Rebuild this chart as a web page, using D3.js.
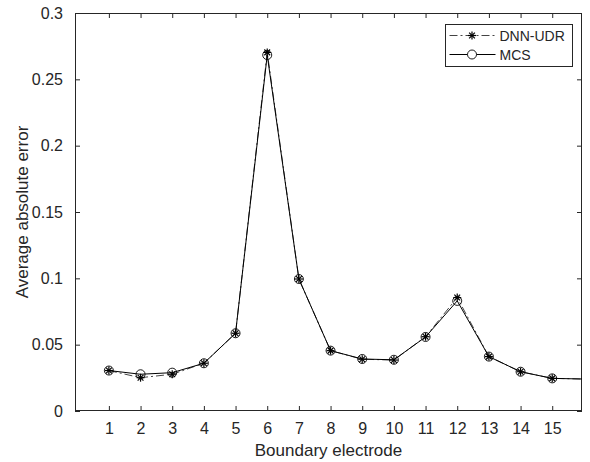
<!DOCTYPE html>
<html>
<head>
<meta charset="utf-8">
<script src="https://cdn.jsdelivr.net/npm/d3@7"></script>
<style>
  html, body { margin: 0; padding: 0; background: #fff; }
  svg text { font-family: "Liberation Sans", Arial, Helvetica, sans-serif; fill: #262626; }
</style>
</head>
<body>
<div id="chart"></div>
<script>
// data
var electrodes = [1, 2, 3, 4, 5, 6, 7, 8, 9, 10, 11, 12, 13, 14, 15, 16];
var dnnUdr = [0.0305, 0.0251, 0.0277, 0.0360, 0.0586, 0.2703, 0.0995, 0.0455, 0.0390, 0.0384, 0.0560, 0.0855, 0.0410, 0.0296, 0.0246, 0.0241];
var mcs    = [0.0305, 0.0277, 0.0289, 0.0360, 0.0586, 0.2683, 0.0995, 0.0455, 0.0392, 0.0386, 0.0558, 0.0830, 0.0410, 0.0296, 0.0246, 0.0241];
var xTicks = [1, 2, 3, 4, 5, 6, 7, 8, 9, 10, 11, 12, 13, 14, 15];
var yTicks = [0, 0.05, 0.1, 0.15, 0.2, 0.25, 0.3];
var seriesNames = ["DNN-UDR", "MCS"];

var svgWidth = 590, svgHeight = 462;
var margin = {top: 13, right: 8, bottom: 51, left: 75};
var width = svgWidth - margin.left - margin.right,
    height = svgHeight - margin.top - margin.bottom;

var svg = d3.select("#chart").append("svg")
    .attr("width", svgWidth)
    .attr("height", svgHeight);

var g = svg.append("g")
    .attr("transform", "translate(" + margin.left + "," + margin.top + ")");

var x = d3.scaleLinear().domain([-0.07, 15.94]).range([0, width]);
var y = d3.scaleLinear().domain([0, 0.3]).range([height, 0]);

g.append("defs").append("clipPath").attr("id", "plotClip")
  .append("rect").attr("width", width).attr("height", height);

// axes, MATLAB style: ticks inward, box on
var tickFmt = function(d) { return d3.format("~g")(d); };
function styleAxis(sel) {
  sel.select(".domain").remove();
  sel.selectAll("line").attr("stroke", "#262626");
  sel.selectAll("text").style("font-size", "16px");
}

g.append("g").attr("transform", "translate(0," + height + ")")
  .call(d3.axisBottom(x).tickValues(xTicks).tickSizeInner(-5).tickSizeOuter(0).tickPadding(12))
  .call(styleAxis);
g.append("g")
  .call(d3.axisTop(x).tickValues(xTicks).tickSizeInner(-5).tickSizeOuter(0).tickFormat(""))
  .call(styleAxis);
g.append("g")
  .call(d3.axisLeft(y).tickValues(yTicks).tickSizeInner(-5).tickSizeOuter(0).tickPadding(12).tickFormat(tickFmt))
  .call(styleAxis);
g.append("g").attr("transform", "translate(" + width + ",0)")
  .call(d3.axisRight(y).tickValues(yTicks).tickSizeInner(-5).tickSizeOuter(0).tickFormat(""))
  .call(styleAxis);

g.append("rect")
    .attr("x", 0.5).attr("y", 0.5)
    .attr("width", width - 1).attr("height", height - 1)
    .attr("fill", "none").attr("stroke", "#262626").attr("stroke-width", 1);

// axis labels
g.append("text")
    .attr("x", width / 2).attr("y", height + 45)
    .attr("text-anchor", "middle")
    .style("font-size", "17px")
    .text("Boundary electrode");
g.append("text")
    .attr("transform", "translate(" + (28 - margin.left) + "," + (height / 2) + ") rotate(-90)")
    .attr("text-anchor", "middle")
    .style("font-size", "17px")
    .text("Average absolute error");

// series
var dnnData = electrodes.map(function(e, i) { return {x: e, y: dnnUdr[i]}; });
var mcsData = electrodes.map(function(e, i) { return {x: e, y: mcs[i]}; });

var line = d3.line().x(function(d) { return x(d.x); }).y(function(d) { return y(d.y); });
var plot = g.append("g").attr("clip-path", "url(#plotClip)");

plot.append("path").datum(dnnData)
    .attr("d", line).attr("fill", "none")
    .attr("stroke", "#444").attr("stroke-width", 1)
    .attr("stroke-dasharray", "8,3,2,3");
plot.append("path").datum(mcsData)
    .attr("d", line).attr("fill", "none")
    .attr("stroke", "#000").attr("stroke-width", 1);

function star(sel, r) {
  var d = r * 0.72;
  sel.append("line").attr("x1", -r).attr("x2", r).attr("y1", 0).attr("y2", 0);
  sel.append("line").attr("x1", 0).attr("x2", 0).attr("y1", -r).attr("y2", r);
  sel.append("line").attr("x1", -d).attr("x2", d).attr("y1", -d).attr("y2", d);
  sel.append("line").attr("x1", -d).attr("x2", d).attr("y1", d).attr("y2", -d);
}

var inView = function(d) { return d.x <= x.domain()[1]; };

plot.selectAll(".mcs-marker").data(mcsData.filter(inView)).enter()
  .append("circle").attr("class", "mcs-marker")
    .attr("cx", function(d) { return x(d.x); })
    .attr("cy", function(d) { return y(d.y); })
    .attr("r", 4.5)
    .attr("fill", "none").attr("stroke", "#000").attr("stroke-width", 0.9);

plot.selectAll(".dnn-marker").data(dnnData.filter(inView)).enter()
  .append("g").attr("class", "dnn-marker")
    .attr("transform", function(d) { return "translate(" + x(d.x) + "," + y(d.y) + ")"; })
    .attr("stroke", "#000").attr("stroke-width", 1.2)
    .call(star, 4);

// legend
var legend = svg.append("g").attr("transform", "translate(445.5,24.5)");
legend.append("rect")
    .attr("width", 127).attr("height", 42)
    .attr("fill", "#fff").attr("stroke", "#262626").attr("stroke-width", 1);

var entries = legend.selectAll(".entry").data(seriesNames).enter()
  .append("g").attr("class", "entry")
    .attr("transform", function(d, i) { return "translate(0," + (i === 0 ? 11 : 30) + ")"; });

entries.append("line")
    .attr("x1", 4).attr("x2", 50).attr("y1", 0).attr("y2", 0)
    .attr("stroke", function(d, i) { return i === 0 ? "#444" : "#000"; })
    .attr("stroke-width", 1)
    .attr("stroke-dasharray", function(d, i) { return i === 0 ? "8,3,2,3" : null; });

entries.each(function(d, i) {
  var e = d3.select(this);
  if (i === 0) {
    e.append("g").attr("transform", "translate(26.5,0)")
      .attr("stroke", "#000").attr("stroke-width", 1.2)
      .call(star, 4);
  } else {
    e.append("circle").attr("cx", 26.5).attr("cy", 0).attr("r", 4.5)
      .attr("fill", "#fff").attr("stroke", "#000").attr("stroke-width", 0.9);
  }
});

entries.append("text")
    .attr("x", 54).attr("y", 5)
    .style("font-size", "14px")
    .text(function(d) { return d; });
</script>
</body>
</html>
